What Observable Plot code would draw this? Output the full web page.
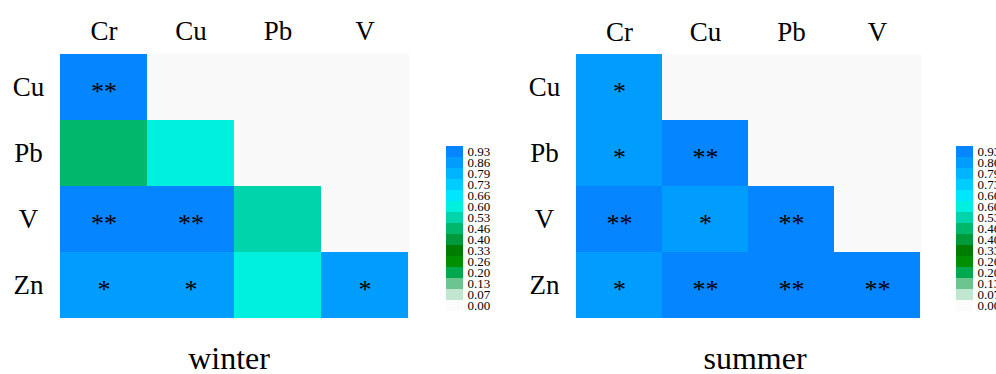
<!DOCTYPE html>
<html>
<head>
<meta charset="utf-8">
<script src="https://cdn.jsdelivr.net/npm/d3@7"></script>
<script src="https://cdn.jsdelivr.net/npm/@observablehq/plot@0.6"></script>
<style>
  html, body { margin: 0; padding: 0; background: #fff; }
  #root { position: relative; width: 996px; height: 374px; overflow: hidden; font-family: "Liberation Serif"; }
  .panel { position: absolute; overflow: visible; }
  .panel svg { max-width: none !important; display: block; font-family: "Liberation Serif" !important; }
  .panel svg text { font-family: "Liberation Serif" !important; }
  .title { position: absolute; font-family: "Liberation Serif"; font-size: 32px; line-height: 1; color: #000; transform: translateX(-50%); white-space: nowrap; }
</style>
</head>
<body>
<div id="root"></div>
<script>
// ---- data ----
const columns = ["Cr", "Cu", "Pb", "V"];
const rows = ["Cu", "Pb", "V", "Zn"];

// lower-triangle correlation values, row by row
const winterValues = [
  [0.95],
  [0.48, 0.62],
  [0.95, 0.95, 0.55],
  [0.88, 0.88, 0.62, 0.88]
];
const winterSig = [
  ["**"],
  ["", ""],
  ["**", "**", ""],
  ["*", "*", "", "*"]
];
const summerValues = [
  [0.88],
  [0.88, 0.95],
  [0.95, 0.88, 0.95],
  [0.88, 0.95, 0.95, 0.95]
];
const summerSig = [
  ["*"],
  ["*", "**"],
  ["**", "*", "**"],
  ["*", "**", "**", "**"]
];

const legendTicks = ["0.00", "0.07", "0.13", "0.20", "0.26", "0.33", "0.40", "0.46", "0.53", "0.60", "0.66", "0.73", "0.79", "0.86", "0.93"];
const legendColors = ["#fbfbfb", "#c2e6d0", "#6cc48e", "#00a84e", "#008f00", "#007d00", "#009a3c", "#00b86c", "#00d4aa", "#00f0e0", "#00e6ff", "#00ccff", "#00b4ff", "#009dff", "#0585ff"];

// ---- helpers ----
const thresholds = legendTicks.slice(1).map(Number);
const colorOpts = { type: "threshold", domain: thresholds, range: legendColors };
const FONT = "Liberation Serif";

function toTable(values, sig) {
  const out = [];
  values.forEach((row, i) => row.forEach((v, j) => out.push({ row: rows[i], col: columns[j], value: v, sig: sig[i][j] })));
  return out;
}

function heatmap(values, sig, m, w, h, labelDx) {
  const data = toTable(values, sig);
  return Plot.plot({
    width: w, height: h,
    marginLeft: m.left, marginRight: m.right, marginTop: m.top, marginBottom: m.bottom,
    style: { fontFamily: FONT, background: "transparent", color: "#000" },
    x: { domain: columns, padding: 0, axis: null, label: null },
    y: { domain: rows, padding: 0, axis: null, label: null },
    color: colorOpts,
    marks: [
      Plot.frame({ fill: "#f9f9f9", stroke: null }),
      Plot.cell(data, { x: "col", y: "row", fill: "value", inset: 0 }),
      Plot.text(data, { x: "col", y: "row", text: "sig", fontSize: 26, fontFamily: FONT, fill: "#000", dy: 4 }),
      Plot.axisX({ anchor: "top", label: null, tickSize: 0, tickPadding: 14, fontSize: 27, fontFamily: FONT, fill: "#000" }),
      Plot.axisY({ anchor: "left", label: null, tickSize: 0, tickPadding: 0, textAnchor: "middle", dx: labelDx, fontSize: 27, fontFamily: FONT, fill: "#000" })
    ]
  });
}

function legend() {
  const data = legendTicks.map(t => ({ t, value: Number(t) }));
  return Plot.plot({
    width: 60, height: 179,
    marginLeft: 0, marginRight: 43, marginTop: 0, marginBottom: 0,
    style: { fontFamily: FONT, background: "transparent", color: "#000", overflow: "visible" },
    x: { domain: ["k"], padding: 0, axis: null, label: null },
    y: { domain: legendTicks.slice().reverse(), padding: 0, axis: null, label: null },
    color: colorOpts,
    marks: [
      Plot.cell(data, { x: () => "k", y: "t", fill: "value", inset: 0 }),
      Plot.axisY({ anchor: "right", label: null, tickSize: 0, tickPadding: 4, fontSize: 13, fontFamily: FONT, fill: "#000" })
    ]
  });
}

function place(node, left, top, w) {
  const d = document.createElement("div");
  d.className = "panel";
  d.style.left = left + "px";
  d.style.top = top + "px";
  d.style.width = w + "px";
  d.appendChild(node);
  document.getElementById("root").appendChild(d);
}
function title(text, cx, top) {
  const d = document.createElement("div");
  d.className = "title";
  d.textContent = text;
  d.style.left = cx + "px";
  d.style.top = top + "px";
  document.getElementById("root").appendChild(d);
}

place(heatmap(winterValues, winterSig, { left: 59, right: 11, top: 53, bottom: 11 }, 420, 330, -31), 0, 0, 420);
place(heatmap(summerValues, summerSig, { left: 74, right: 9, top: 54, bottom: 12 }, 430, 330, -30), 500, 0, 430);
place(legend(), 446, 139, 60);
place(legend(), 956, 139, 60);
title("winter", 229, 342);
title("summer", 755, 342);
</script>
</body>
</html>
